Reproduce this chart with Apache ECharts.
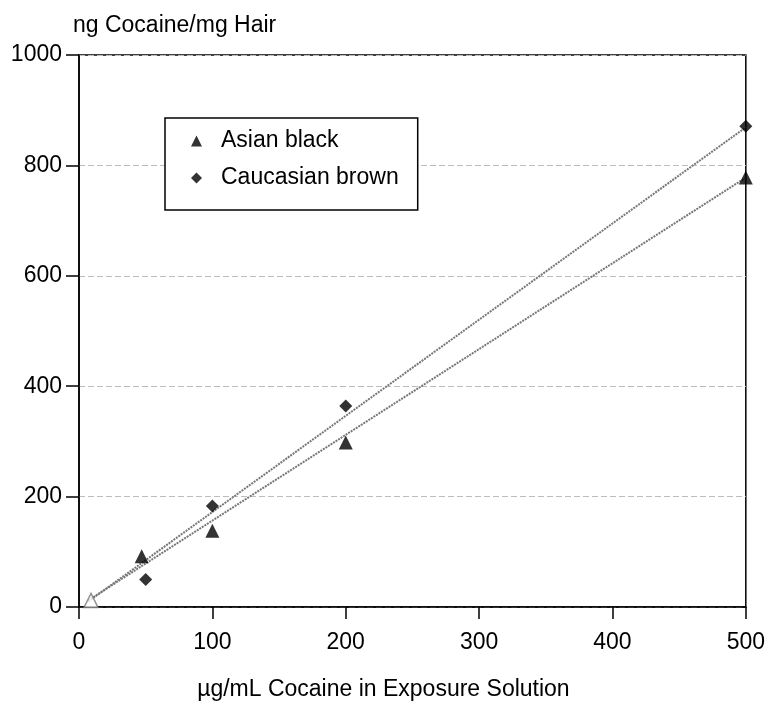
<!DOCTYPE html>
<html>
<head>
<meta charset="utf-8">
<script src="https://cdn.jsdelivr.net/npm/echarts@6/dist/echarts.min.js"></script>
<style>
  html, body { margin: 0; padding: 0; background: #fff; }
  #chart { width: 768px; height: 706px; }
</style>
</head>
<body>
<div id="chart"></div>
<script>
// Cocaine uptake into hair versus exposure concentration
const asianDose = [9, 47, 100, 200, 500];
const asianHair = [12, 92, 138, 298, 778];
const caucDose = [50, 100, 200, 500];
const caucHair = [50, 183, 364, 871];

// Linear fit end points for each hair type
const fitDose = [7, 500];
const asianFitHair = [12, 778];
const caucFitHair = [10, 869];

const xTicks = [0, 100, 200, 300, 400, 500];
const yTicks = [0, 200, 400, 600, 800, 1000];

const FONT = 'Liberation Sans, Arial, sans-serif';
const FS = 23;

const pairs = (xs, ys) => xs.map((x, i) => [x, ys[i]]);

const asianPoints = pairs(asianDose, asianHair).map((p, i) =>
  i === 0
    ? { value: p, itemStyle: { color: '#fff', borderColor: '#777', borderWidth: 1.5 } }
    : { value: p }
);

const chart = echarts.init(document.getElementById('chart'), null, { renderer: 'canvas' });

chart.setOption({
  animation: false,
  backgroundColor: '#fff',
  textStyle: { fontFamily: FONT },
  grid: {
    left: 79, right: 22, top: 55, bottom: 93,
    show: true, borderColor: '#000', borderWidth: 1.5
  },
  graphic: [{
    type: 'text',
    left: 73, top: 14,
    style: { text: 'ng Cocaine/mg Hair', font: FS + 'px ' + FONT, fill: '#000' }
  }],
  legend: {
    data: [
      { name: 'Asian black', icon: 'triangle' },
      { name: 'Caucasian brown', icon: 'diamond' }
    ],
    orient: 'vertical',
    left: 165, top: 118,
    itemWidth: 11, itemHeight: 11,
    symbolKeepAspect: true,
    itemGap: 13,
    padding: [11, 19, 20, 26],
    borderColor: '#000', borderWidth: 1.5,
    backgroundColor: '#fff',
    textStyle: {
      fontSize: FS, lineHeight: 24, color: '#000', fontFamily: FONT,
      padding: [0, 0, 0, 14]
    }
  },
  xAxis: {
    type: 'value',
    min: 0, max: 500, interval: 100,
    name: 'µg/mL Cocaine in Exposure Solution',
    nameLocation: 'middle', nameGap: 71,
    nameTextStyle: { fontSize: FS, color: '#000', fontFamily: FONT, padding: [0, 58, 0, 0] },
    axisLine: { show: true, onZero: false, lineStyle: { color: '#000', width: 1.5 } },
    axisTick: { show: true, inside: false, length: 12, lineStyle: { color: '#000', width: 1.5 } },
    axisLabel: {
      fontSize: FS, color: '#000', margin: 24, fontFamily: FONT,
      formatter: v => (xTicks.includes(v) ? String(v) : '')
    },
    splitLine: { show: false }
  },
  yAxis: {
    type: 'value',
    min: 0, max: 1000, interval: 200,
    axisLine: { show: true, onZero: false, lineStyle: { color: '#000', width: 1.5 } },
    axisTick: { show: true, inside: false, length: 13, lineStyle: { color: '#000', width: 1.5 } },
    axisLabel: {
      fontSize: FS, color: '#000', margin: 17, fontFamily: FONT,
      formatter: v => (yTicks.includes(v) ? String(v) : '')
    },
    splitLine: { show: true, lineStyle: { color: '#bdbdbd', type: [6, 3], width: 1 } }
  },
  series: [
    {
      name: 'Asian black fit',
      type: 'line',
      data: pairs(fitDose, asianFitHair),
      symbol: 'none',
      silent: true,
      lineStyle: { color: '#777', width: 2, type: [2, 1] },
      z: 2
    },
    {
      name: 'Caucasian brown fit',
      type: 'line',
      data: pairs(fitDose, caucFitHair),
      symbol: 'none',
      silent: true,
      lineStyle: { color: '#777', width: 2, type: [2, 1] },
      z: 2
    },
    {
      name: 'Asian black',
      type: 'scatter',
      symbol: 'triangle',
      symbolSize: 14,
      itemStyle: { color: '#000' },
      data: asianPoints,
      z: 3
    },
    {
      name: 'Caucasian brown',
      type: 'scatter',
      symbol: 'diamond',
      symbolSize: 13,
      itemStyle: { color: '#000' },
      data: pairs(caucDose, caucHair),
      z: 3
    }
  ]
});
</script>
</body>
</html>
